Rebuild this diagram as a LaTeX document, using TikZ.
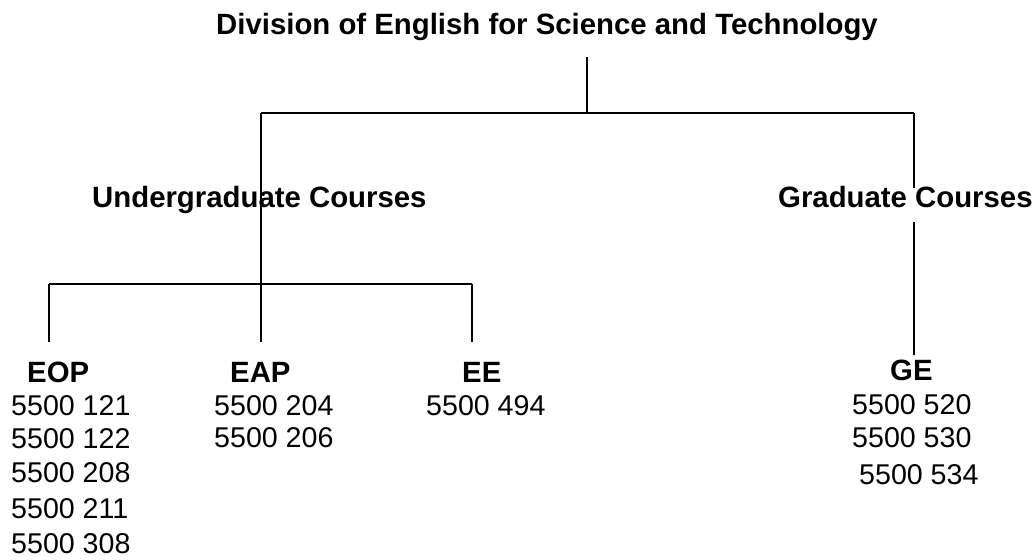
\documentclass[tikz,border=0pt]{standalone}
\usepackage{fontspec}
\setmainfont{Liberation Sans}
\begin{document}
\begin{tikzpicture}[x=1pt,y=-1pt,
  head/.style={anchor=base west,inner sep=0pt,font=\fontsize{29.35}{34}\selectfont\bfseries},
  code/.style={anchor=base west,inner sep=0pt,font=\fontsize{28.6}{34}\selectfont},
  link/.style={line width=2.2pt,black}]
\useasboundingbox (0,0) rectangle (1035,559);
% headings
\node[head] (title) at (216,35) {Division of English for Science and Technology};
\node[head] (ug) at (92,207) {Undergraduate Courses};
\node[head] (gc) at (778,207) {Graduate Courses};
\node[head] (eop) at (27,382) {EOP};
\node[head] (eap) at (230,382) {EAP};
\node[head] (ee) at (462,382) {EE};
\node[head] (ge) at (890,380) {GE};
% course codes
\node[code] (c121) at (11,415) {5500 121};
\node[code] (c122) at (11,448) {5500 122};
\node[code] (c208) at (11,482) {5500 208};
\node[code] (c211) at (11,518) {5500 211};
\node[code] (c308) at (11,553) {5500 308};
\node[code] (c204) at (214,415) {5500 204};
\node[code] (c206) at (214,447) {5500 206};
\node[code] (c494) at (426,415) {5500 494};
\node[code] (c520) at (852,414) {5500 520};
\node[code] (c530) at (852,447) {5500 530};
\node[code] (c534) at (859,484) {5500 534};
% junction points
\coordinate (t0) at (587,57);
\coordinate (tb) at (587,113);
\coordinate (bl) at (261,113);
\coordinate (br) at (914,113);
\coordinate (ugj) at (261,284);
\coordinate (eapt) at (261,342);
\coordinate (l1) at (49,284);
\coordinate (eopt) at (49,342);
\coordinate (l3) at (472,284);
\coordinate (eet) at (472,342);
\coordinate (gctop) at (914,188);
\coordinate (gcbot) at (914,222);
\coordinate (get) at (914,355);
% connectors
\draw[link] (t0) -- (tb);
\draw[link] (bl) -- (br);
\draw[link] (bl) -- (ugj) -- (eapt);
\draw[link] (l1) -- (l3);
\draw[link] (l1) -- (eopt);
\draw[link] (l3) -- (eet);
\draw[link] (br) -- (gctop);
\draw[link] (gcbot) -- (get);
\end{tikzpicture}
\end{document}
